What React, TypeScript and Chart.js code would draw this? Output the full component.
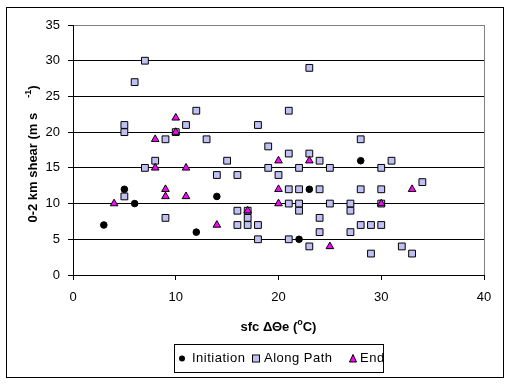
import React, { useEffect, useRef } from 'react';
import { Chart, registerables } from 'chart.js';

Chart.register(...registerables);

const initiationX = [3, 5, 6, 12, 14, 22, 23, 28];
const initiationY = [7, 12, 10, 6, 11, 5, 12, 16];

const alongX = [5, 5, 6, 7, 7, 8, 9, 10, 11, 12, 13, 14, 5, 9, 15, 16, 16, 16, 17, 17, 17, 18, 18, 18, 19, 19, 20, 21, 21, 21, 21, 21, 22, 22, 22, 22, 23, 23, 23, 24, 24, 24, 24, 25, 25, 27, 27, 27, 28, 28, 28, 29, 29, 30, 30, 30, 30, 31, 32, 33, 34];
const alongY = [21, 20, 27, 30, 15, 16, 19, 20, 21, 23, 19, 14, 11, 8, 16, 14, 9, 7, 9, 8, 7, 7, 5, 21, 18, 15, 14, 23, 17, 12, 10, 5, 15, 12, 10, 9, 29, 17, 4, 16, 12, 8, 6, 15, 10, 10, 9, 6, 19, 12, 7, 7, 3, 15, 12, 10, 7, 16, 4, 3, 13];

const endX = [4, 8, 8, 9, 9, 10, 10, 11, 11, 14, 17, 20, 20, 20, 23, 25, 30, 33];
const endY = [10, 19, 15, 12, 11, 22, 20, 15, 11, 7, 9, 16, 12, 10, 16, 4, 10, 12];

const xTicks = [0, 10, 20, 30, 40];
const yTicks = [0, 5, 10, 15, 20, 25, 30, 35];

const seriesNames = ['Initiation', 'Along Path', 'End'];
const FONT = '"Liberation Sans", Arial, sans-serif';
const ALONG_COLOR = '#C0C0F4';
const END_COLOR = '#FF00FF';

const toPts = (xs: number[], ys: number[]) => xs.map((x, i) => ({ x, y: ys[i] }));

type Seg = { t: string; sup?: boolean; gap?: number };

function drawSegs(ctx: CanvasRenderingContext2D, segs: Seg[], cx: number, cy: number) {
  const big = `bold 13px ${FONT}`;
  const small = `bold 9px ${FONT}`;
  let total = 0;
  for (const s of segs) {
    ctx.font = s.sup ? small : big;
    total += ctx.measureText(s.t).width + (s.gap || 0);
  }
  let x = cx - total / 2;
  ctx.textBaseline = 'alphabetic';
  ctx.textAlign = 'left';
  for (const s of segs) {
    x += s.gap || 0;
    ctx.font = s.sup ? small : big;
    ctx.fillText(s.t, x, cy + (s.sup ? -6 : 0));
    x += ctx.measureText(s.t).width;
  }
}

const decorPlugin = {
  id: 'decor',
  beforeDraw(chart: any) {
    const ctx = chart.ctx;
    ctx.save();
    ctx.fillStyle = '#fff';
    ctx.fillRect(0, 0, chart.width, chart.height);
    ctx.restore();
  },
  beforeDatasetsDraw(chart: any) {
    const ctx = chart.ctx;
    const { right, top, bottom } = chart.chartArea;
    ctx.save();
    ctx.strokeStyle = '#808080';
    ctx.lineWidth = 1;
    ctx.beginPath();
    ctx.moveTo(Math.round(right) + 0.5, top);
    ctx.lineTo(Math.round(right) + 0.5, bottom);
    ctx.stroke();
    ctx.restore();
  },
  afterDraw(chart: any) {
    const ctx: CanvasRenderingContext2D = chart.ctx;
    const { left, right, top, bottom } = chart.chartArea;
    ctx.save();
    // outer frame
    ctx.strokeStyle = '#000';
    ctx.lineWidth = 1;
    ctx.strokeRect(6.5, 7.5, 497, 370);

    // axis titles
    ctx.fillStyle = '#000';
    drawSegs(ctx, [{ t: 'sfc ΔΘe (' }, { t: 'o', sup: true }, { t: 'C)' }], (left + right) / 2, 331);
    ctx.save();
    ctx.translate(37, (top + bottom) / 2 + 4);
    ctx.rotate(-Math.PI / 2);
    drawSegs(ctx, [{ t: '0-2 km shear (m s' }, { t: '-1', sup: true, gap: 15 }, { t: ')' }], 0, 0);
    ctx.restore();

    // legend
    const lx = 174, ly = 344, lw = 210, lh = 29;
    ctx.fillStyle = '#fff';
    ctx.fillRect(lx, ly, lw, lh);
    ctx.strokeStyle = '#000';
    ctx.strokeRect(lx + 0.5, ly + 0.5, lw - 1, lh - 1);
    const cy = ly + 14.5;
    // circle
    ctx.fillStyle = '#000';
    ctx.beginPath();
    ctx.arc(182, cy, 3, 0, Math.PI * 2);
    ctx.fill();
    // square
    ctx.fillStyle = ALONG_COLOR;
    ctx.fillRect(253, cy - 3, 6, 6);
    ctx.strokeRect(252.5, cy - 3.5, 7, 7);
    // triangle
    ctx.fillStyle = END_COLOR;
    ctx.beginPath();
    ctx.moveTo(353, cy - 4);
    ctx.lineTo(356.5, cy + 3.5);
    ctx.lineTo(349.5, cy + 3.5);
    ctx.closePath();
    ctx.fill();
    ctx.stroke();
    ctx.fillStyle = '#000';
    ctx.font = `13px ${FONT}`;
    (ctx as any).letterSpacing = '0.5px';
    ctx.textBaseline = 'middle';
    ctx.textAlign = 'left';
    ctx.fillText(seriesNames[0], 192, cy);
    ctx.fillText(seriesNames[1], 264, cy);
    ctx.fillText(seriesNames[2], 360, cy);
    ctx.restore();
  },
};

export default function App() {
  const ref = useRef<HTMLCanvasElement>(null);
  useEffect(() => {
    if (!ref.current) return;
    const chart = new Chart(ref.current, {
      type: 'scatter',
      data: {
        datasets: [
          {
            label: seriesNames[0],
            data: toPts(initiationX, initiationY),
            pointStyle: 'circle',
            pointRadius: 3.3,
            backgroundColor: '#000',
            borderColor: '#000',
            borderWidth: 1,
            order: 1,
          },
          {
            label: seriesNames[1],
            data: toPts(alongX, alongY),
            pointStyle: 'rect',
            pointRadius: 4.8,
            backgroundColor: ALONG_COLOR,
            borderColor: '#000',
            borderWidth: 1,
            order: 2,
          },
          {
            label: seriesNames[2],
            data: toPts(endX, endY),
            pointStyle: 'triangle',
            pointRadius: 4.4,
            backgroundColor: END_COLOR,
            borderColor: '#000',
            borderWidth: 1,
            order: 0,
          },
        ],
      },
      options: {
        responsive: false,
        animation: false,
        events: [],
        layout: { padding: { left: 0, top: 25, right: 28, bottom: 0 } },
        plugins: { legend: { display: false }, tooltip: { enabled: false } },
        scales: {
          x: {
            type: 'linear',
            min: 0,
            max: 40,
            afterBuildTicks: (s: any) => {
              s.ticks = xTicks.map((v) => ({ value: v }));
            },
            afterFit: (s: any) => {
              s.height = 109;
            },
            grid: { display: true, drawOnChartArea: false, drawTicks: true, tickLength: 5, tickColor: '#000' },
            border: { display: true, color: '#000', width: 1 },
            ticks: { color: '#000', font: { family: FONT, size: 13 }, padding: 10, maxRotation: 0 },
            title: { display: false },
          },
          y: {
            type: 'linear',
            min: 0,
            max: 35,
            afterBuildTicks: (s: any) => {
              s.ticks = yTicks.map((v) => ({ value: v }));
            },
            afterFit: (s: any) => {
              s.width = 73;
            },
            grid: {
              display: true,
              drawTicks: true,
              tickLength: 5,
              tickColor: '#000',
              color: (c: any) => (c.tick && c.tick.value === 35 ? '#808080' : '#000'),
            },
            border: { display: true, color: '#000', width: 1 },
            ticks: { color: '#000', font: { family: FONT, size: 13 }, padding: 8 },
            title: { display: false },
          },
        },
      },
      plugins: [decorPlugin],
    });
    return () => chart.destroy();
  }, []);
  return (
    <div style={{ position: 'absolute', left: 0, top: 0, width: 512, height: 384 }}>
      <canvas ref={ref} width={512} height={384} style={{ display: 'block' }} />
    </div>
  );
}
